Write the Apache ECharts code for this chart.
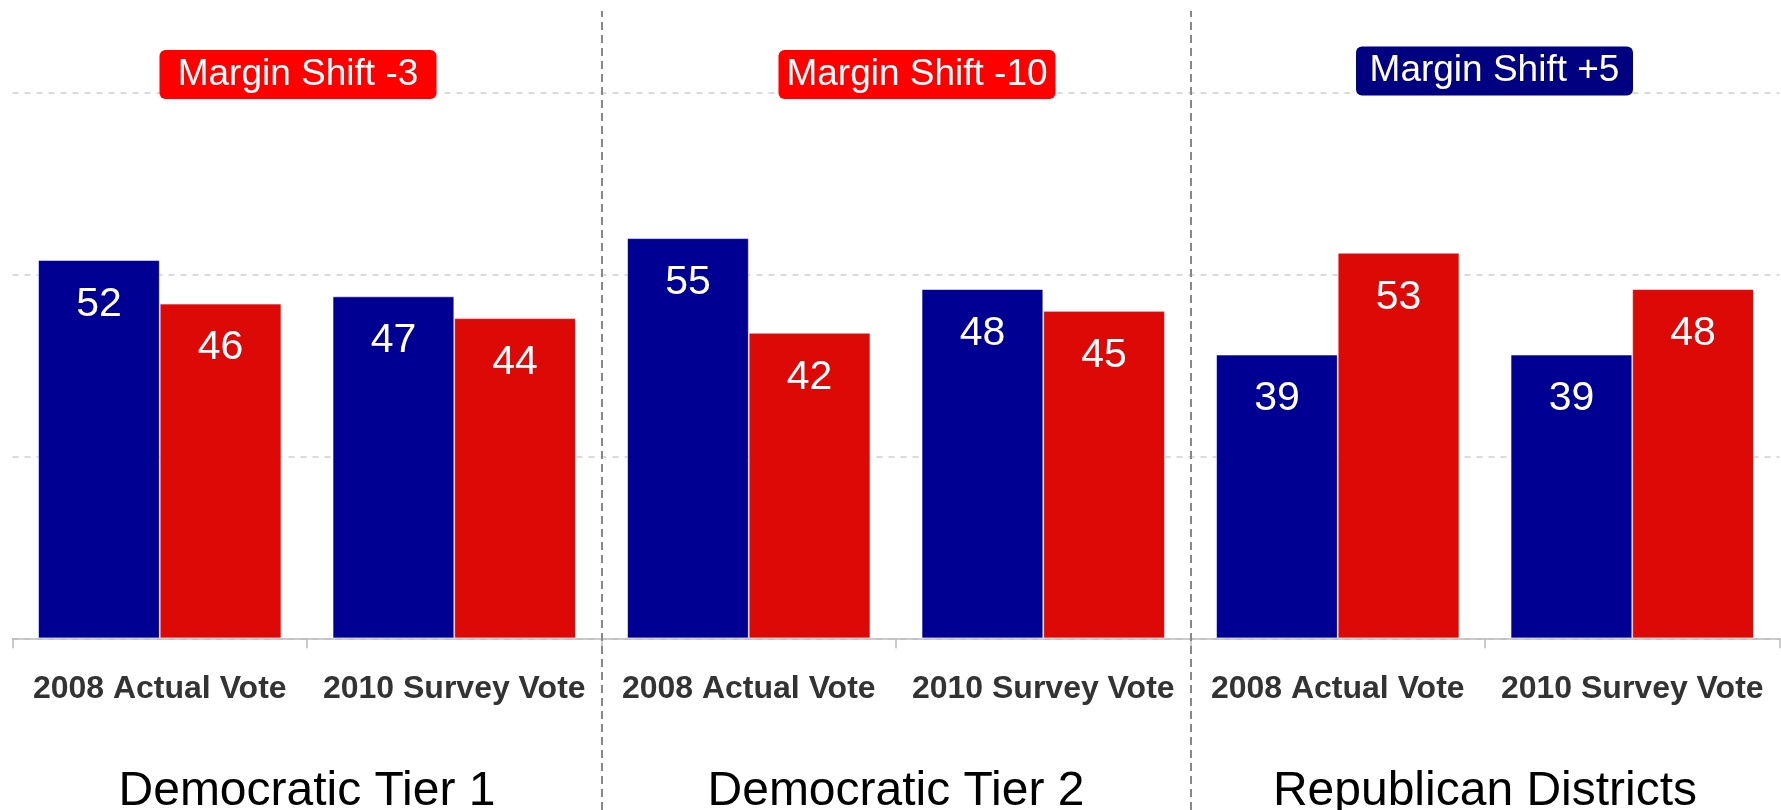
<!DOCTYPE html>
<html>
<head>
<meta charset="utf-8">
<script src="https://cdn.jsdelivr.net/npm/echarts@6/dist/echarts.min.js"></script>
<style>
html,body{margin:0;padding:0;background:#fff;}
#chart{width:1781px;height:810px;}
</style>
</head>
<body>
<div id="chart"></div>
<script>
// ---- data ----
var categories = ['2008 Actual Vote', '2010 Survey Vote', '2008 Actual Vote', '2010 Survey Vote', '2008 Actual Vote', '2010 Survey Vote'];
var groups = ['Democratic Tier 1', 'Democratic Tier 2', 'Republican Districts'];
var demValues = [52, 47, 55, 48, 39, 39];
var repValues = [46, 44, 42, 45, 53, 48];
var marginShifts = ['-3', '-10', '+5'];
var dividerPositions = [1, 2];
var yTicks = [0, 25, 50, 75];

// ---- style ----
var BLUE = '#000093';
var RED = '#DD0907';
var FONT = '"Liberation Sans", Arial, sans-serif';
var badgeY = 77.5;
var badgeOffsets = [[-9, 0], [21, 0], [9.5, -3.6]];

var chart = echarts.init(document.getElementById('chart'), null, {renderer: 'canvas'});

var valueLabel = {
  show: true,
  position: 'insideTop',
  distance: 24,
  color: '#fff',
  fontSize: 41,
  fontFamily: FONT
};

var option = {
  animation: false,
  backgroundColor: '#fff',
  grid: [
    {left: 12.5, right: 1.5, top: 92.7, bottom: 171.7, containLabel: false, outerBoundsMode: 'none'},
    {left: 12.5, right: 1.5, top: 11, bottom: 0, containLabel: false, outerBoundsMode: 'none'}
  ],
  xAxis: [
    {
      type: 'category',
      gridIndex: 0,
      data: categories,
      position: 'bottom',
      axisLine: {show: true, lineStyle: {color: '#bbb', width: 1.5}},
      axisTick: {show: true, length: 10, lineStyle: {color: '#bbb', width: 1.5}},
      axisLabel: {color: '#333', fontSize: 32, fontWeight: 'bold', fontFamily: FONT, margin: 35, interval: 0},
      splitLine: {show: false}
    },
    {
      type: 'category',
      gridIndex: 0,
      data: groups,
      position: 'bottom',
      axisLine: {show: false},
      axisTick: {show: false},
      axisLabel: {color: '#000', fontSize: 48, fontFamily: FONT, margin: 129, interval: 0},
      splitLine: {show: false}
    },
    {
      type: 'value',
      gridIndex: 1,
      min: 0,
      max: groups.length,
      show: false
    }
  ],
  yAxis: [
    {
      type: 'value',
      gridIndex: 0,
      min: yTicks[0],
      max: yTicks[yTicks.length - 1],
      interval: 25,
      axisLine: {show: false},
      axisTick: {show: false},
      axisLabel: {show: false},
      splitLine: {show: true, lineStyle: {color: '#cfcfcf', width: 1.5, type: [6, 6]}}
    },
    {
      type: 'value',
      gridIndex: 1,
      min: 0,
      max: 1,
      show: false
    }
  ],
  series: [
    {
      name: 'Democrat',
      type: 'bar',
      xAxisIndex: 0,
      yAxisIndex: 0,
      data: demValues,
      barGap: '0%',
      barCategoryGap: '17.4%',
      itemStyle: {color: BLUE, borderColor: 'rgba(255,255,255,0.7)', borderWidth: 0.8},
      label: valueLabel
    },
    {
      name: 'Republican',
      type: 'bar',
      xAxisIndex: 0,
      yAxisIndex: 0,
      data: repValues,
      barGap: '0%',
      barCategoryGap: '17.4%',
      itemStyle: {color: RED, borderColor: 'rgba(255,255,255,0.7)', borderWidth: 0.8},
      label: valueLabel
    },
    {
      name: 'Margin Shift',
      type: 'scatter',
      xAxisIndex: 1,
      yAxisIndex: 0,
      clip: false,
      symbolSize: 1,
      itemStyle: {color: 'rgba(0,0,0,0)', opacity: 1},
      z: 10,
      data: groups.map(function (g, i) {
        var s = marginShifts[i];
        return {
          value: [g, badgeY],
          label: {
            show: true,
            position: 'inside',
            offset: badgeOffsets[i],
            formatter: 'Margin Shift ' + s,
            backgroundColor: s.charAt(0) === '+' ? '#000080' : '#FF0000',
            color: '#fff',
            opacity: 1,
            fontSize: 37,
            fontFamily: FONT,
            borderRadius: 6,
            width: 277,
            align: 'center',
            padding: [6, 0, 6, 0]
          }
        };
      })
    },
    {
      name: 'dividers',
      type: 'scatter',
      xAxisIndex: 2,
      yAxisIndex: 1,
      data: [],
      markLine: {
        silent: true,
        symbol: 'none',
        label: {show: false},
        lineStyle: {color: '#888', width: 2, type: [8, 5]},
        data: dividerPositions.map(function (p) { return {xAxis: p}; })
      }
    }
  ]
};

chart.setOption(option);
</script>
</body>
</html>
